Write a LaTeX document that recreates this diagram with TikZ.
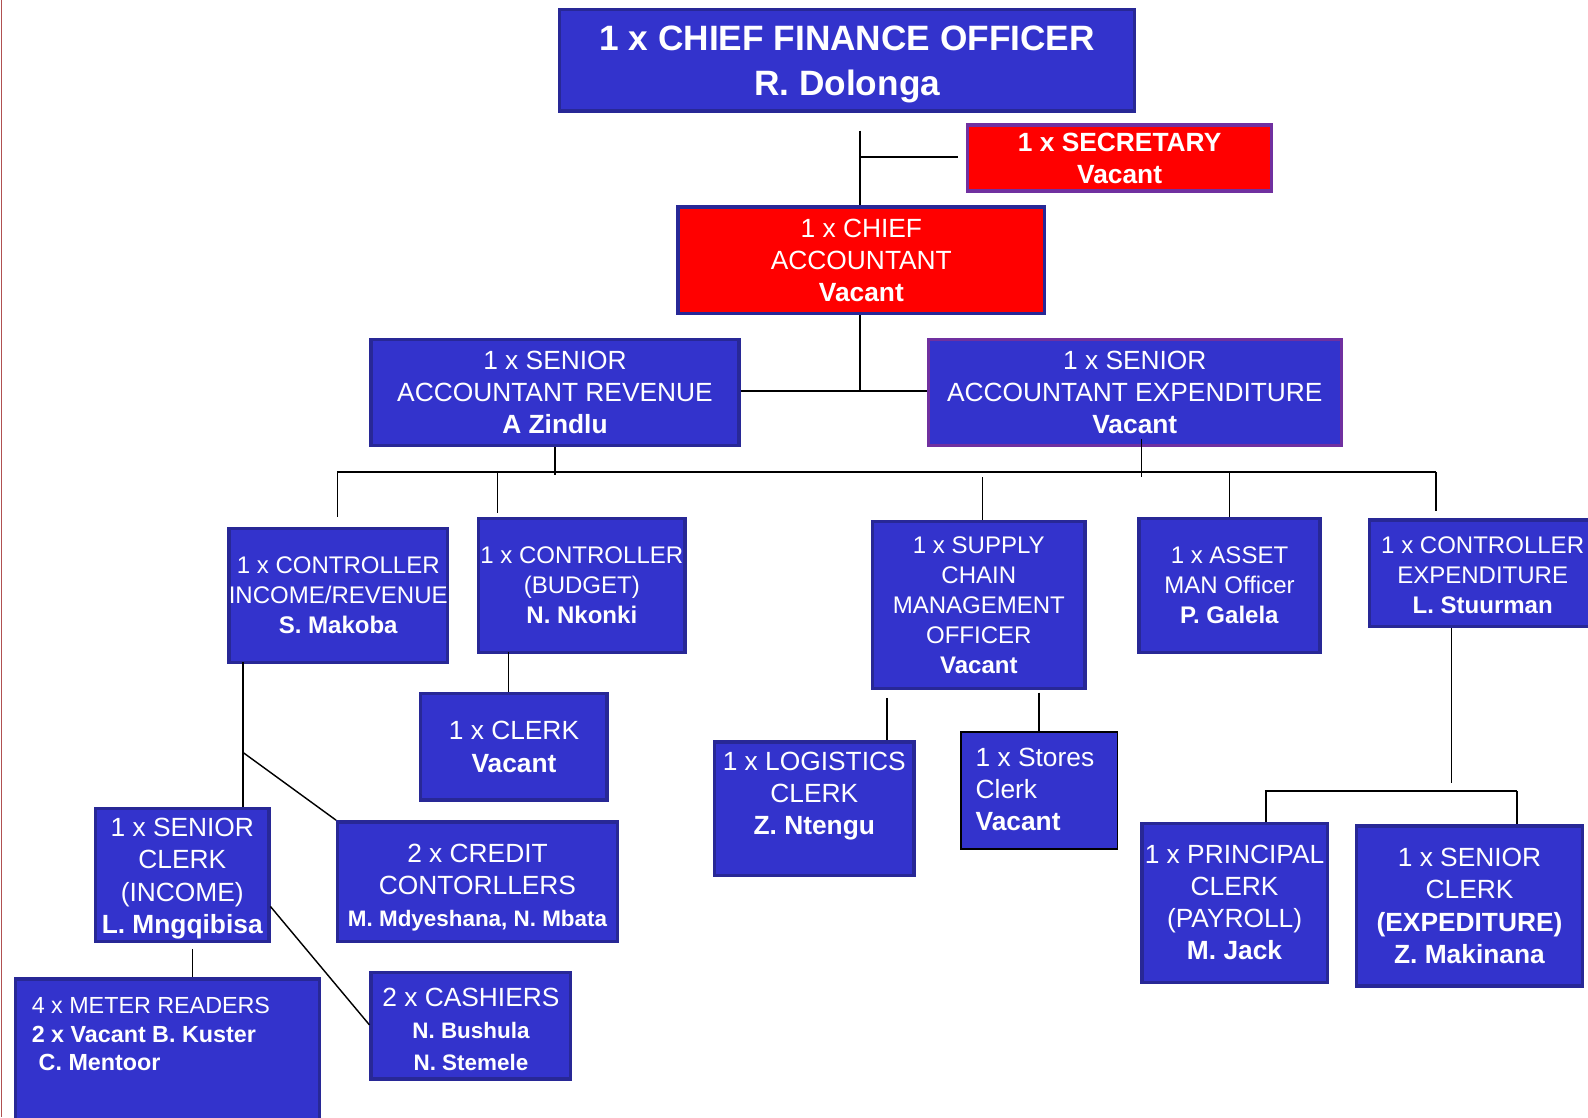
\documentclass[tikz,border=0pt]{standalone}
\usepackage{fontspec}
\setmainfont{Liberation Sans}
\usetikzlibrary{calc}
\definecolor{boxblue}{RGB}{51,51,204}
\definecolor{boxnavy}{RGB}{40,40,150}
\definecolor{boxred}{RGB}{255,0,0}
\definecolor{boxpurple}{RGB}{112,48,160}
\definecolor{edgered}{RGB}{176,80,80}
\newcommand\fszA{\fontsize{14.8}{18}\selectfont}
\newcommand\fszB{\fontsize{13.5}{16.8}\selectfont}
\newcommand\fszT{\fontsize{19.8}{25}\selectfont}
\newcommand\fszM{\fontsize{13.1}{16.2}\selectfont}
\newcommand\fszN{\fontsize{12.6}{16}\selectfont}
\begin{document}
\begin{tikzpicture}[x=0.02cm,y=-0.02cm,
  orgbox/.style={rectangle, fill=boxblue, draw=boxnavy, line width=1.9pt,
    text=white, align=center, inner sep=0pt, font=\fszA},
  redbox/.style={orgbox, fill=boxred},
  sz/.style 2 args={minimum width={(#1-3)*0.02cm}, minimum height={(#2-3)*0.02cm}},
  txt/.style={text=white, inner sep=0pt},
  link/.style={draw=black, line width=0.8pt}]
\useasboundingbox (0,0) rectangle (1568,1103);
\clip (0,0) rectangle (1568,1103);
\fill[white] (0,0) rectangle (1568,1103);
\draw[edgered, line width=0.8pt] (1.5,0) -- (1.5,1103);

% boxes
\node[orgbox, sz={571}{103}] (cfo) at (836.5,59.5) {};
\node[txt, align=center, font=\fszT\bfseries] (cfot) at (836.5,63.5)
  {1 x CHIEF FINANCE OFFICER\\R. Dolonga};
\node[redbox, draw=boxpurple, sz={303}{68}, font=\fszA\bfseries] (sec) at (1105.5,156)
  {1 x SECRETARY\\Vacant};
\node[redbox, sz={365}{108}] (ca) at (850.5,257)
  {1 x CHIEF\\ACCOUNTANT\\\textbf{Vacant}};
\node[orgbox, sz={366}{108}] (sar) at (548,387.5)
  {1 x SENIOR\\ACCOUNTANT REVENUE\\\textbf{A Zindlu}};
\node[orgbox, draw=boxpurple, sz={411}{108}] (sae) at (1120.5,387.5)
  {1 x SENIOR\\ACCOUNTANT EXPENDITURE\\\textbf{Vacant}};
\node[orgbox, sz={216}{135}, font=\fszB] (ci) at (334,588)
  {1 x CONTROLLER\\INCOME/REVENUE\\\textbf{S. Makoba}};
\node[orgbox, sz={207}{135}, font=\fszB] (cb) at (574.5,578)
  {1 x CONTROLLER\\(BUDGET)\\\textbf{N. Nkonki}};
\node[orgbox, sz={187}{108}] (clk) at (507.5,737.5)
  {1 x CLERK\\\textbf{Vacant}};
\node[orgbox, sz={213}{168}, font=\fszB] (scm) at (966.5,597.5)
  {1 x SUPPLY\\CHAIN\\MANAGEMENT\\OFFICER\\\textbf{Vacant}};
\node[orgbox, sz={182}{135}, font=\fszB] (asm) at (1214,578)
  {1 x ASSET\\MAN Officer\\\textbf{P. Galela}};
\node[orgbox, sz={229}{108}] (cex) at (1465.5,566) {};
\node[txt, align=center, font=\fszB] (cext) at (1464,568)
  {1 x CONTROLLER\\EXPENDITURE\\\textbf{L. Stuurman}};
\node[orgbox, sz={200}{135}] (log) at (804,798.5) {};
\node[txt, align=center, font=\fszA] (logt) at (804,786)
  {1 x LOGISTICS\\CLERK\\\textbf{Z. Ntengu}};
\node[orgbox, draw=black, line width=1pt, sz={158}{119}] (sto) at (1026,780.5) {};
\node[txt, align=left, anchor=west, font=\fszA] (stot) at (963,779.5)
  {1 x Stores\\Clerk\\\textbf{Vacant}};
\node[orgbox, sz={174}{134}] (sci) at (180,864) {};
\node[txt, align=center, font=\fszA] (scit) at (180,867.5)
  {1 x SENIOR\\CLERK\\(INCOME)\\\textbf{L. Mngqibisa}};
\node[orgbox, sz={279}{121}] (crc) at (471.5,870.5) {};
\node[txt, align=center, font=\fszA] (crct) at (471.5,876)
  {2 x CREDIT\\CONTORLLERS\\{\fszN\bfseries M. Mdyeshana, N. Mbata}};
\node[orgbox, sz={303}{145}] (mtr) at (165.5,1037.5) {};
\node[txt, align=left, anchor=west, font=\fszM] (mtrt) at (31,1021)
  {4 x METER READERS\\\textbf{2 x Vacant B. Kuster}\\\textbf{\hspace{0.3em}C. Mentoor}};
\node[orgbox, sz={200}{108}] (csh) at (465,1013) {};
\node[txt, align=center, font=\fszA] (csht) at (465,1016)
  {2 x CASHIERS\\{\fszN\bfseries N. Bushula}\\{\fszN\bfseries N. Stemele}};
\node[orgbox, sz={186}{160}] (pcl) at (1219,891.5)
  {1 x PRINCIPAL\\CLERK\\(PAYROLL)\\\textbf{M. Jack}};
\node[orgbox, sz={226}{161}] (sce) at (1451,894.5)
  {1 x SENIOR\\CLERK\\\textbf{(EXPEDITURE)}\\\textbf{Z. Makinana}};

% junction coordinates
\coordinate (cfoStub) at (849,129);
\coordinate (secJ) at (849,155);
\coordinate (caJ) at (849,386);
\coordinate (saeJ) at (1127,433);
\coordinate (busL) at (333,466);
\coordinate (busR) at (1418,466);
\coordinate (cbJ) at (491,466);
\coordinate (scmJ) at (970,471);
\coordinate (cbS) at (502,644);
\coordinate (ciS) at (240,654);
\coordinate (ciJ) at (240,743);
\coordinate (sciS) at (190,937);
\coordinate (sciE) at (267,895);
\coordinate (logJ) at (876,689);
\coordinate (stoJ) at (1026,684);
\coordinate (cexJ) at (1433,773);
\coordinate (busL2) at (1250,781);
\coordinate (busR2) at (1498,781);

% connectors
\draw[link] (cfoStub) -- (cfoStub |- ca.north);
\draw[link] (secJ) -- ($(sec.west)+(-8,-1)$);
\draw[link] (caJ |- ca.south) -- (caJ);
\draw[link] (sar.east |- caJ) -- (sae.west |- caJ);
\draw[link] (sar.south) -- ($(sar.south)+(0,27.5)$);
\draw[link] (saeJ) -- ($(saeJ)+(0,38)$);
\draw[link] (busL) -- (busR);
\draw[link] (busL) -- ($(busL)+(0,44)$);
\draw[link] (cbJ) -- ($(cbJ)+(0,41)$);
\draw[link] (scmJ) -- (scmJ |- scm.north);
\draw[link] (asm.north |- busL) -- (asm.north);
\draw[link] (busR) -- ($(busR)+(0,39)$);
\draw[link] (cbS) -- (cbS |- clk.north);
\draw[link] (ciS) -- (ciS |- sci.north);
\draw[link] (ciJ) -- (crc.north west);
\draw[link] (sciS) -- (sciS |- mtr.north);
\draw[link] (sciE) -- ($(csh.west)+(0,-1)$);
\draw[link] (logJ) -- (logJ |- log.north);
\draw[link] (stoJ) -- (stoJ |- sto.north);
\draw[link] (cexJ |- cex.south) -- (cexJ);
\draw[link] ($(busL2)+(-1,0)$) -- (busR2);
\draw[link] (busL2) -- (busL2 |- pcl.north);
\draw[link] (busR2) -- (busR2 |- sce.north);
\end{tikzpicture}
\end{document}
